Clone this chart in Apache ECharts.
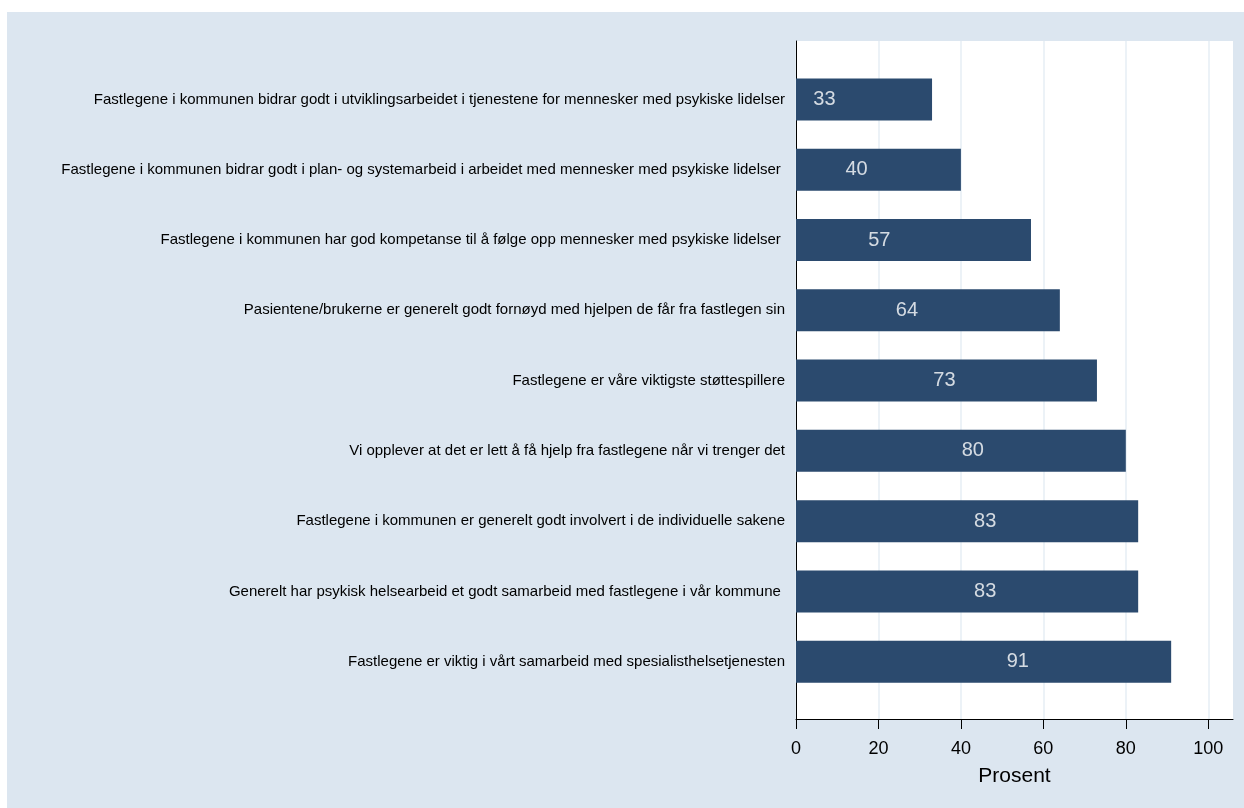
<!DOCTYPE html>
<html>
<head>
<meta charset="utf-8">
<script src="https://cdn.jsdelivr.net/npm/echarts@6/dist/echarts.min.js"></script>
<style>
  html, body { margin: 0; padding: 0; background: #ffffff; }
  #chart { position: absolute; left: 7px; top: 12px; width: 1237px; height: 796px; }
</style>
</head>
<body>
<div id="chart"></div>
<script>
const categories = [
  "Fastlegene i kommunen bidrar godt i utviklingsarbeidet i tjenestene for mennesker med psykiske lidelser",
  "Fastlegene i kommunen bidrar godt i plan- og systemarbeid i arbeidet med mennesker med psykiske lidelser ",
  "Fastlegene i kommunen har god kompetanse til å følge opp mennesker med psykiske lidelser ",
  "Pasientene/brukerne er generelt godt fornøyd med hjelpen de får fra fastlegen sin",
  "Fastlegene er våre viktigste støttespillere",
  "Vi opplever at det er lett å få hjelp fra fastlegene når vi trenger det",
  "Fastlegene i kommunen er generelt godt involvert i de individuelle sakene",
  "Generelt har psykisk helsearbeid et godt samarbeid med fastlegene i vår kommune ",
  "Fastlegene er viktig i vårt samarbeid med spesialisthelsetjenesten"
];
const values = [33, 40, 57, 64, 73, 80, 83, 83, 91];
// where the value label sits along the bar (in percent units, as in the original)
const labelPos = [6.9, 14.7, 20.2, 26.9, 36.0, 42.9, 45.9, 45.9, 53.8];
const xTicks = [0, 20, 40, 60, 80, 100];

const chart = echarts.init(document.getElementById("chart"));

const font = '"Liberation Sans", Arial, sans-serif';

const option = {
  animation: false,
  backgroundColor: "#dce6f0",
  grid: [
    { left: 789, right: 11, top: 52.4, bottom: 111.2 },
    { left: 789, right: 11, top: 29, bottom: 89, show: true, backgroundColor: "#ffffff", borderWidth: 0 }
  ],
  xAxis: [
    { gridIndex: 0, type: "value", min: 0, max: 106, show: false },
    {
      gridIndex: 1,
      type: "value",
      min: 0,
      max: 106,
      interval: 20,
      name: "Prosent",
      nameLocation: "middle",
      nameGap: 47,
      nameTextStyle: { fontFamily: font, fontSize: 21, color: "#000" },
      axisLine: { show: true, lineStyle: { color: "#000", width: 1 } },
      axisTick: { show: true, length: 10, customValues: xTicks, lineStyle: { color: "#000" } },
      axisLabel: { customValues: xTicks, margin: 21, fontFamily: font, fontSize: 18, color: "#000" },
      splitLine: { show: true, lineStyle: { color: "#e6eef5", width: 1.5 } }
    }
  ],
  yAxis: [
    {
      gridIndex: 0,
      type: "category",
      inverse: true,
      data: categories,
      axisLine: { show: false },
      axisTick: { show: false },
      axisLabel: { margin: 11, fontFamily: font, fontSize: 15, color: "#000" }
    },
    {
      gridIndex: 1,
      type: "value",
      axisLine: { show: true, lineStyle: { color: "#000", width: 1 } },
      axisTick: { show: false },
      axisLabel: { show: false },
      splitLine: { show: false }
    }
  ],
  series: [
    {
      type: "bar",
      xAxisIndex: 0,
      yAxisIndex: 0,
      barWidth: 42,
      itemStyle: { color: "#2b4a6e" },
      data: values
    },
    {
      type: "scatter",
      xAxisIndex: 0,
      yAxisIndex: 0,
      symbolSize: 0,
      silent: true,
      z: 5,
      data: labelPos.map((x, i) => [x, i]),
      label: {
        show: true,
        position: "inside",
        formatter: (p) => String(values[p.dataIndex]),
        fontFamily: font,
        fontSize: 20,
        color: "#ffffff"
      }
    }
  ]
};

chart.setOption(option);
</script>
</body>
</html>
